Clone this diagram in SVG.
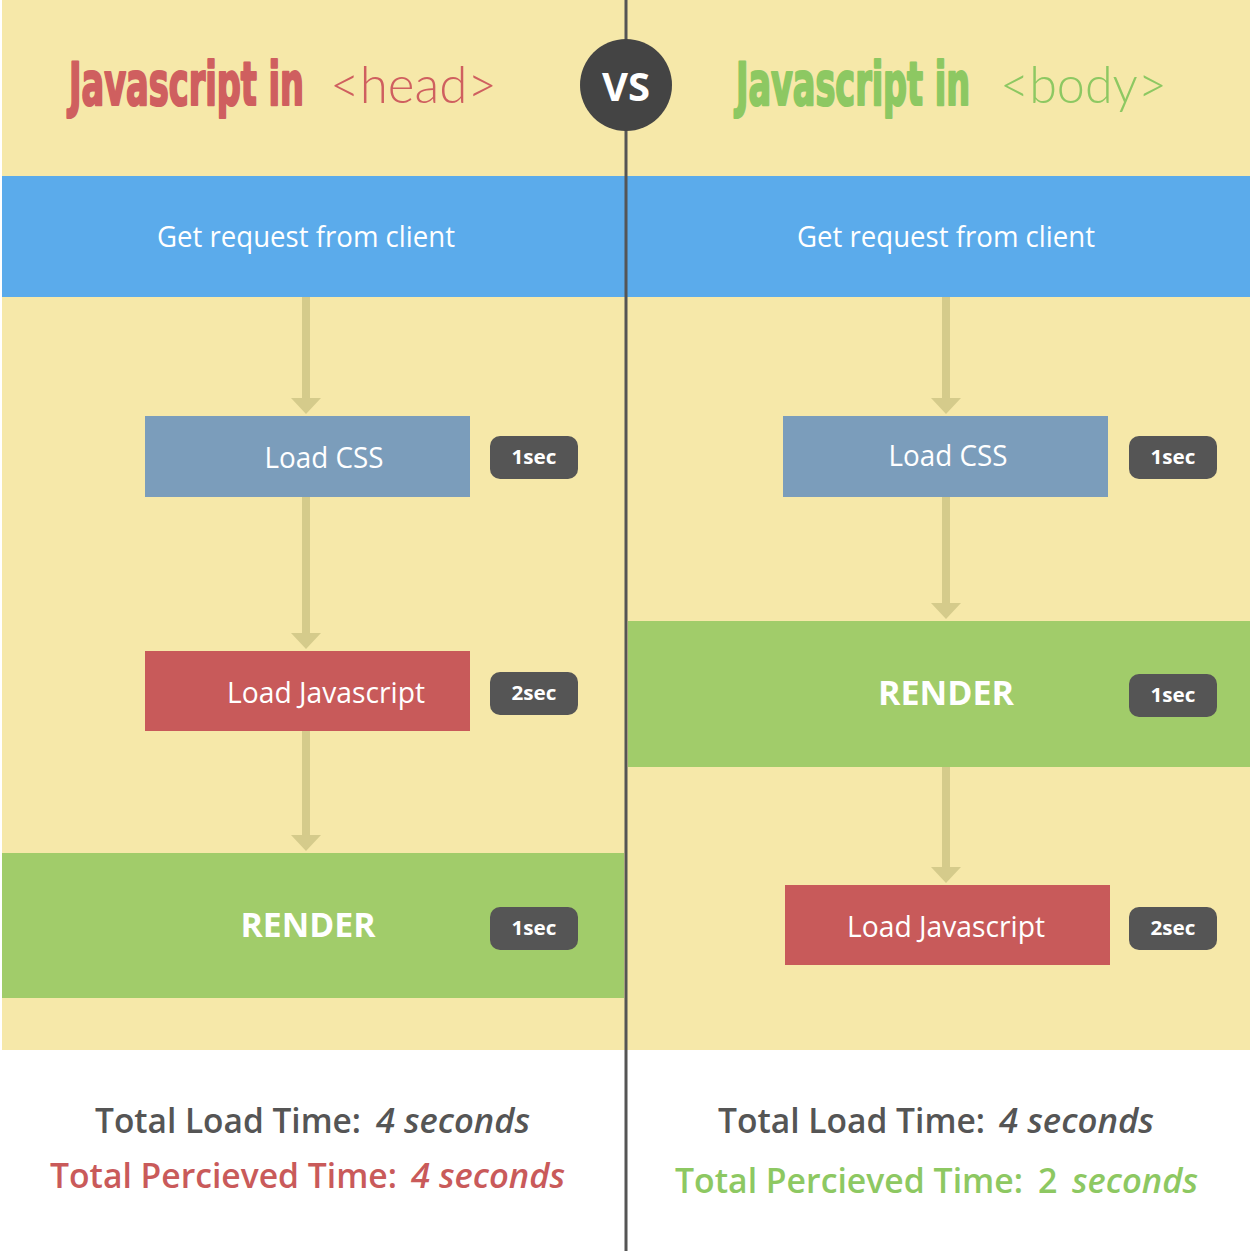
<svg xmlns="http://www.w3.org/2000/svg" width="1250" height="1251" viewBox="0 0 1250 1251">
<style>
.t{font-family:"Open Sans","Noto Sans","Liberation Sans",sans-serif;fill:#fff}
.lbl{font-size:29px;text-anchor:middle}
.rend{font-size:34px;font-weight:bold;text-anchor:middle}
.badge{fill:#555}
.bt{font-family:"Open Sans","Noto Sans",sans-serif;font-size:20px;font-weight:bold;fill:#fff;text-anchor:middle}
.title{font-family:"DejaVu Sans Condensed","Liberation Sans",sans-serif;font-weight:bold;font-size:30px;stroke-width:1.1;stroke-linejoin:round}
.tag{font-family:"Lato","Open Sans",sans-serif;font-weight:300;font-size:52px}
.tot{font-family:"Open Sans","Noto Sans",sans-serif;font-size:34px;font-weight:600}
.it{font-style:italic}
.arr{stroke:#d5cb8b;stroke-width:8;fill:none}
.ah{fill:#d5cb8b}
</style>
<rect x="0" y="0" width="1250" height="1251" fill="#fff"/>
<rect x="2" y="0" width="1248" height="1050" fill="#f6e8a9"/>

<g id="title-left">
<text class="title" transform="translate(69,105) scale(1,2)" x="0" y="0" fill="#cf5f5f" stroke="#cf5f5f" textLength="235" lengthAdjust="spacingAndGlyphs">Javascript in</text>
<text class="tag" x="330" y="103" fill="#cf5f5f" textLength="167" lengthAdjust="spacingAndGlyphs">&lt;head&gt;</text>
</g>
<g id="title-right">
<text class="title" transform="translate(736,105) scale(1,2)" x="0" y="0" fill="#8dc862" stroke="#8dc862" textLength="234" lengthAdjust="spacingAndGlyphs">Javascript in</text>
<text class="tag" x="1000" y="103" fill="#8dc862" textLength="167" lengthAdjust="spacingAndGlyphs">&lt;body&gt;</text>
</g>

<g id="get-request">
<rect x="2" y="176" width="1248" height="121" fill="#5babeb"/>
<text class="t lbl" x="306" y="247" textLength="298" lengthAdjust="spacingAndGlyphs">Get request from client</text>
<text class="t lbl" x="946" y="247" textLength="298" lengthAdjust="spacingAndGlyphs">Get request from client</text>
</g>

<g id="connectors">
<line class="arr" x1="306" y1="297" x2="306" y2="400"/>
<polygon class="ah" points="291,398 321,398 306,414"/>
<line class="arr" x1="306" y1="497" x2="306" y2="634"/>
<polygon class="ah" points="291,633 321,633 306,649"/>
<line class="arr" x1="306" y1="731" x2="306" y2="837"/>
<polygon class="ah" points="291,835 321,835 306,851"/>
<line class="arr" x1="946" y1="297" x2="946" y2="400"/>
<polygon class="ah" points="931,398 961,398 946,414"/>
<line class="arr" x1="946" y1="497" x2="946" y2="604"/>
<polygon class="ah" points="931,603 961,603 946,619"/>
<line class="arr" x1="946" y1="767" x2="946" y2="869"/>
<polygon class="ah" points="931,867 961,867 946,883"/>
</g>

<g id="left-load-css">
<rect x="145" y="416" width="325" height="81" fill="#7b9dbb"/>
<text class="t lbl" x="324" y="468" textLength="119" lengthAdjust="spacingAndGlyphs">Load CSS</text>
</g>
<g id="left-badge-1">
<rect class="badge" x="490" y="436" width="88" height="43" rx="10"/>
<text class="bt" x="534" y="464" textLength="45" lengthAdjust="spacingAndGlyphs">1sec</text>
</g>
<g id="left-load-js">
<rect x="145" y="651" width="325" height="80" fill="#c85a5a"/>
<text class="t lbl" x="326" y="703" textLength="198" lengthAdjust="spacingAndGlyphs">Load Javascript</text>
</g>
<g id="left-badge-2">
<rect class="badge" x="490" y="672" width="88" height="43" rx="10"/>
<text class="bt" x="534" y="700" textLength="45" lengthAdjust="spacingAndGlyphs">2sec</text>
</g>
<g id="left-render">
<rect x="2" y="853" width="622" height="145" fill="#a1cc6a"/>
<text class="t rend" x="308" y="937" textLength="135" lengthAdjust="spacingAndGlyphs">RENDER</text>
</g>
<g id="left-badge-3">
<rect class="badge" x="490" y="907" width="88" height="43" rx="10"/>
<text class="bt" x="534" y="935" textLength="45" lengthAdjust="spacingAndGlyphs">1sec</text>
</g>

<g id="right-load-css">
<rect x="783" y="416" width="325" height="81" fill="#7b9dbb"/>
<text class="t lbl" x="948" y="466" textLength="119" lengthAdjust="spacingAndGlyphs">Load CSS</text>
</g>
<g id="right-badge-1">
<rect class="badge" x="1129" y="436" width="88" height="43" rx="10"/>
<text class="bt" x="1173" y="464" textLength="45" lengthAdjust="spacingAndGlyphs">1sec</text>
</g>
<g id="right-render">
<rect x="628" y="621" width="622" height="146" fill="#a1cc6a"/>
<text class="t rend" x="946" y="705" textLength="136" lengthAdjust="spacingAndGlyphs">RENDER</text>
</g>
<g id="right-badge-2">
<rect class="badge" x="1129" y="674" width="88" height="43" rx="10"/>
<text class="bt" x="1173" y="702" textLength="45" lengthAdjust="spacingAndGlyphs">1sec</text>
</g>
<g id="right-load-js">
<rect x="785" y="885" width="325" height="80" fill="#c85a5a"/>
<text class="t lbl" x="946" y="937" textLength="198" lengthAdjust="spacingAndGlyphs">Load Javascript</text>
</g>
<g id="right-badge-3">
<rect class="badge" x="1129" y="907" width="88" height="43" rx="10"/>
<text class="bt" x="1173" y="935" textLength="45" lengthAdjust="spacingAndGlyphs">2sec</text>
</g>

<line x1="626" y1="0" x2="626" y2="1251" stroke="#555" stroke-width="3"/>

<g id="vs">
<circle cx="626" cy="85" r="46" fill="#444"/>
<text x="626" y="101" font-family="Open Sans,Noto Sans,sans-serif" font-size="40" font-weight="bold" fill="#fff" text-anchor="middle">VS</text>
</g>

<g id="totals-left">
<text class="tot" x="95" y="1133" fill="#555" textLength="266" lengthAdjust="spacingAndGlyphs">Total Load Time:</text>
<text class="tot it" x="376" y="1133" fill="#555" textLength="154" lengthAdjust="spacingAndGlyphs">4 seconds</text>
<text class="tot" x="50" y="1188" fill="#c95a5a" textLength="347" lengthAdjust="spacingAndGlyphs">Total Percieved Time:</text>
<text class="tot it" x="411" y="1188" fill="#c95a5a" textLength="154" lengthAdjust="spacingAndGlyphs">4 seconds</text>
</g>
<g id="totals-right">
<text class="tot" x="718" y="1133" fill="#555" textLength="267" lengthAdjust="spacingAndGlyphs">Total Load Time:</text>
<text class="tot it" x="999" y="1133" fill="#555" textLength="155" lengthAdjust="spacingAndGlyphs">4 seconds</text>
<text class="tot" x="675" y="1193" fill="#8dc862" textLength="348" lengthAdjust="spacingAndGlyphs">Total Percieved Time:</text>
<text class="tot" x="1038" y="1193" fill="#8dc862">2</text>
<text class="tot it" x="1072" y="1193" fill="#8dc862" textLength="126" lengthAdjust="spacingAndGlyphs">seconds</text>
</g>
</svg>
